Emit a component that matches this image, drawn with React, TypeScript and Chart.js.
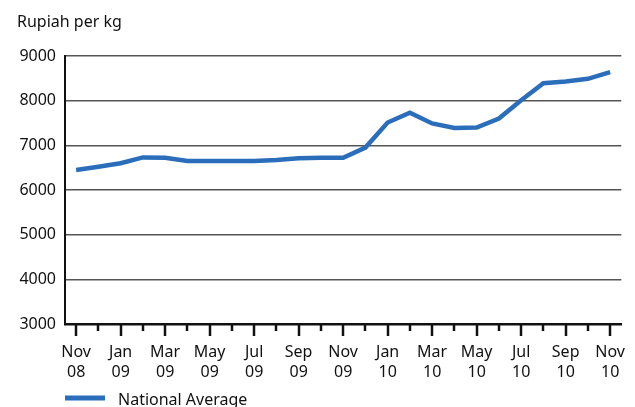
import React, { useEffect, useRef } from "react";
import { Chart, registerables } from "chart.js";

Chart.register(...registerables);

const categories = [
  "Nov 08", "Dec 08", "Jan 09", "Feb 09", "Mar 09", "Apr 09", "May 09", "Jun 09", "Jul 09",
  "Aug 09", "Sep 09", "Oct 09", "Nov 09", "Dec 09", "Jan 10", "Feb 10", "Mar 10", "Apr 10",
  "May 10", "Jun 10", "Jul 10", "Aug 10", "Sep 10", "Oct 10", "Nov 10",
];

const nationalAverage = [
  6450, 6520, 6600, 6730, 6720, 6650, 6650, 6650, 6650, 6670, 6710, 6720, 6720,
  6950, 7510, 7730, 7490, 7390, 7400, 7600, 8010, 8390, 8430, 8490, 8640,
];

const yTicks = [3000, 4000, 5000, 6000, 7000, 8000, 9000];

const titleText = "Rupiah per kg";
const seriesName = "National Average";

const LINE_COLOR = "#2a6ebb";
const FONT = "'Noto Sans', sans-serif";

export default function App() {
  const ref = useRef<HTMLCanvasElement | null>(null);

  useEffect(() => {
    if (!ref.current) return;

    const decorPlugin = {
      id: "decor",
      afterDraw(chart: any) {
        const ctx = chart.ctx;
        const xs = chart.scales.x;
        const area = chart.chartArea;
        ctx.save();
        // x tick marks (major / minor)
        ctx.strokeStyle = "#111";
        ctx.lineWidth = 2.5;
        for (let i = 0; i < categories.length; i++) {
          const x = Math.round(xs.getPixelForValue(i));
          const len = i % 2 === 0 ? 12 : 7;
          ctx.beginPath();
          ctx.moveTo(x, area.bottom);
          ctx.lineTo(x, area.bottom + len);
          ctx.stroke();
        }
        // title
        ctx.fillStyle = "#111";
        ctx.font = `16px ${FONT}`;
        ctx.textBaseline = "alphabetic";
        ctx.textAlign = "left";
        ctx.fillText(titleText, 17, 27);
        // legend
        ctx.strokeStyle = LINE_COLOR;
        ctx.lineWidth = 5;
        ctx.beginPath();
        ctx.moveTo(65, 398);
        ctx.lineTo(105, 398);
        ctx.stroke();
        ctx.textBaseline = "middle";
        ctx.fillText(chart.data.datasets[0].label, 118, 400);
        ctx.restore();
      },
    };

    const chart = new Chart(ref.current, {
      type: "line",
      data: {
        labels: categories,
        datasets: [
          {
            label: seriesName,
            data: nationalAverage,
            borderColor: LINE_COLOR,
            borderWidth: 4.5,
            pointRadius: 0,
            tension: 0,
            fill: false,
          },
        ],
      },
      options: {
        animation: false,
        responsive: true,
        maintainAspectRatio: false,
        layout: { padding: { left: 17, top: 56, right: 1, bottom: 0 } },
        plugins: {
          legend: { display: false },
          title: { display: false },
          tooltip: { enabled: false },
        },
        scales: {
          x: {
            type: "category",
            offset: true,
            grid: { display: false },
            border: { display: true, color: "#111", width: 2.5 },
            ticks: {
              autoSkip: false,
              maxRotation: 0,
              minRotation: 0,
              padding: 10,
              color: "#111",
              font: { family: FONT, size: 16, lineHeight: 1.25 },
              callback: (_v: any, i: number) =>
                i % 2 === 0 ? categories[i].split(" ") : "",
            },
            afterFit: (s: any) => {
              s.height = 83;
            },
          },
          y: {
            min: yTicks[0],
            max: yTicks[yTicks.length - 1],
            afterBuildTicks: (s: any) => {
              s.ticks = yTicks.map((v) => ({ value: v }));
            },
            grid: { color: "#555", lineWidth: 1.5, drawTicks: false },
            border: { display: true, color: "#111", width: 2 },
            ticks: {
              padding: 9,
              color: "#111",
              font: { family: FONT, size: 16 },
              callback: (v: any) => String(v),
            },
            afterFit: (s: any) => {
              s.width = 48;
            },
          },
        },
      },
      plugins: [decorPlugin],
    });

    return () => chart.destroy();
  }, []);

  return (
    <div style={{ position: "fixed", left: 0, top: 0, width: 635, height: 407, background: "#fff" }}>
      <canvas ref={ref} />
    </div>
  );
}
